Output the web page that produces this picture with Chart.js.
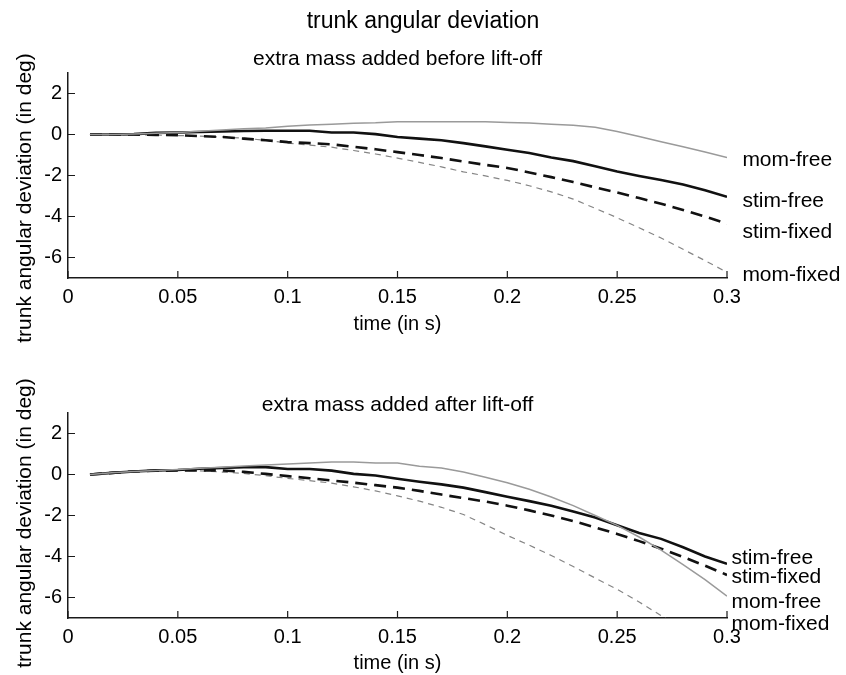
<!DOCTYPE html>
<html>
<head>
<meta charset="utf-8">
<script src="https://cdn.jsdelivr.net/npm/chart.js@4.4.1/dist/chart.umd.min.js"></script>
<style>
body { margin: 0; background: #fff; }
#wrap { position: relative; width: 846px; height: 675px; }
#chartTop { position: absolute; left: 0; top: 0; }
#chartBottom { position: absolute; left: 0; top: 350px; }
</style>
</head>
<body>
<div id="wrap">
<canvas id="chartTop" width="846" height="350"></canvas>
<canvas id="chartBottom" width="846" height="325"></canvas>
</div>
<script>
// sample times (s)
const time = [0.01, 0.02, 0.03, 0.04, 0.05, 0.06, 0.07, 0.08, 0.09, 0.10,
              0.11, 0.12, 0.13, 0.14, 0.15, 0.16, 0.17, 0.18, 0.19, 0.20,
              0.21, 0.22, 0.23, 0.24, 0.25, 0.26, 0.27, 0.28, 0.29, 0.30];

// extra mass added before lift-off
const momFreeBefore = [0, 0, 0.02, 0.06, 0.10, 0.16, 0.22, 0.28, 0.32, 0.40,
                       0.46, 0.50, 0.55, 0.57, 0.62, 0.62, 0.62, 0.62, 0.62, 0.58,
                       0.56, 0.50, 0.45, 0.35, 0.15, -0.10, -0.35, -0.60, -0.85, -1.12];
const stimFreeBefore = [0, 0, 0.02, 0.08, 0.10, 0.12, 0.15, 0.17, 0.18, 0.18,
                        0.18, 0.10, 0.10, 0.02, -0.12, -0.20, -0.28, -0.42, -0.58, -0.74,
                        -0.90, -1.12, -1.30, -1.55, -1.80, -2.02, -2.22, -2.44, -2.72, -3.04];
const stimFixedBefore = [0, 0, 0, -0.02, -0.03, -0.08, -0.12, -0.20, -0.28, -0.37,
                         -0.42, -0.48, -0.60, -0.72, -0.86, -1.00, -1.15, -1.32, -1.48, -1.63,
                         -1.85, -2.08, -2.32, -2.58, -2.83, -3.10, -3.38, -3.68, -4.00, -4.35];
const momFixedBefore = [0, 0, -0.01, -0.03, -0.05, -0.08, -0.12, -0.18, -0.28, -0.42,
                        -0.52, -0.62, -0.78, -0.95, -1.15, -1.36, -1.58, -1.82, -2.02, -2.24,
                        -2.50, -2.80, -3.15, -3.60, -4.06, -4.55, -5.05, -5.60, -6.15, -6.72];

// extra mass added after lift-off
const momFreeAfter = [0, 0.08, 0.15, 0.20, 0.24, 0.30, 0.35, 0.42, 0.46, 0.51,
                      0.56, 0.61, 0.61, 0.56, 0.56, 0.40, 0.32, 0.12, -0.13, -0.40,
                      -0.72, -1.10, -1.52, -2.00, -2.48, -3.05, -3.69, -4.40, -5.13, -5.93];
const stimFreeAfter = [0, 0.08, 0.15, 0.20, 0.22, 0.28, 0.32, 0.35, 0.36, 0.27,
                       0.27, 0.19, 0.03, -0.05, -0.21, -0.35, -0.48, -0.64, -0.86, -1.09,
                       -1.30, -1.52, -1.80, -2.10, -2.48, -2.85, -3.14, -3.55, -4.00, -4.36];
const stimFixedAfter = [0, 0.08, 0.15, 0.18, 0.20, 0.20, 0.20, 0.13, 0.03, -0.08,
                        -0.18, -0.29, -0.40, -0.52, -0.64, -0.80, -0.98, -1.15, -1.32, -1.52,
                        -1.75, -2.00, -2.27, -2.58, -2.90, -3.25, -3.62, -4.02, -4.45, -4.90];
const momFixedAfter = [0, 0.08, 0.15, 0.18, 0.20, 0.18, 0.12, 0.05, -0.06, -0.19,
                       -0.30, -0.42, -0.60, -0.80, -1.04, -1.30, -1.60, -1.95, -2.45, -2.97,
                       -3.45, -3.95, -4.49, -5.05, -5.60, -6.22, -6.88, -7.55, -8.25, -9.00];

const xTicks = [0, 0.05, 0.1, 0.15, 0.2, 0.25, 0.3];
const yTicks = [-6, -4, -2, 0, 2];

// text labels at the line ends (data units)
const namesBefore = ['mom-free', 'stim-free', 'stim-fixed', 'mom-fixed'];
const labelYBefore = [-1.24, -3.23, -4.78, -6.87];
const namesAfter = ['stim-free', 'stim-fixed', 'mom-free', 'mom-fixed'];
const labelYAfter = [-4.1, -5.03, -6.23, -7.3];

const FONT = '"Liberation Sans", Arial, Helvetica, sans-serif';

function pts(values) {
    return values.map((v, i) => ({ x: time[i], y: v }));
}

function makeDatasets(momFree, stimFree, stimFixed, momFixed) {
    return [{
        label: 'mom-free', data: pts(momFree),
        borderColor: '#9a9a9a', borderWidth: 1.5
    }, {
        label: 'stim-free', data: pts(stimFree),
        borderColor: '#111', borderWidth: 2.6
    }, {
        label: 'stim-fixed', data: pts(stimFixed),
        borderColor: '#111', borderWidth: 2.6, borderDash: [12, 7]
    }, {
        label: 'mom-fixed', data: pts(momFixed),
        borderColor: '#858585', borderWidth: 1.2, borderDash: [6, 5]
    }];
}

// inward ticks, end labels, rotated y title, figure title
const decorations = {
    id: 'decorations',
    afterDraw(chart, args, opts) {
        const { ctx, chartArea } = chart;
        const x = chart.scales.x, y = chart.scales.y;
        ctx.save();
        ctx.strokeStyle = '#1a1a1a';
        ctx.lineWidth = 1.2;
        ctx.beginPath();
        xTicks.forEach(v => {
            const px = x.getPixelForValue(v);
            ctx.moveTo(px, chartArea.bottom);
            ctx.lineTo(px, chartArea.bottom - 7);
        });
        yTicks.forEach(v => {
            const py = y.getPixelForValue(v);
            ctx.moveTo(chartArea.left, py);
            ctx.lineTo(chartArea.left + 7, py);
        });
        ctx.stroke();

        ctx.fillStyle = '#000';
        ctx.font = '21px ' + FONT;
        ctx.textAlign = 'left';
        ctx.textBaseline = 'middle';
        opts.names.forEach((name, i) => {
            ctx.fillText(name, x.getPixelForValue(opts.labelX), y.getPixelForValue(opts.labelY[i]));
        });

        if (opts.mainTitle) {
            ctx.font = '23px ' + FONT;
            ctx.textAlign = 'center';
            ctx.textBaseline = 'alphabetic';
            ctx.fillText(opts.mainTitle, 423, 28);
        }

        ctx.translate(25, opts.yTitleY);
        ctx.rotate(-Math.PI / 2);
        ctx.font = '21px ' + FONT;
        ctx.textAlign = 'center';
        ctx.textBaseline = 'middle';
        ctx.fillText('trunk angular deviation (in deg)', 0, 0);
        ctx.restore();
    }
};

function makeOptions(subtitle, padTop, titlePadBottom, padBottom, xTitlePad, deco) {
    return {
        responsive: false,
        animation: false,
        layout: { padding: { left: 0, right: 119, top: padTop, bottom: padBottom } },
        elements: { point: { radius: 0 }, line: { tension: 0 } },
        plugins: {
            legend: { display: false },
            tooltip: { enabled: false },
            title: {
                display: true, text: subtitle, fullSize: false, color: '#000',
                font: { family: FONT, size: 21, weight: 'normal', lineHeight: 1 },
                padding: { top: 0, bottom: titlePadBottom }
            },
            decorations: deco
        },
        scales: {
            x: {
                type: 'linear', min: 0, max: 0.3,
                grid: { display: false, drawTicks: false },
                border: { display: true, color: '#1a1a1a', width: 1.5 },
                afterBuildTicks: s => { s.ticks = xTicks.map(v => ({ value: v })); },
                afterFit: s => { s.height = 57; },
                ticks: {
                    autoSkip: false, maxRotation: 0, padding: 7, color: '#000',
                    font: { family: FONT, size: 20, lineHeight: 1.2 },
                    callback: v => String(v)
                },
                title: {
                    display: true, text: 'time (in s)', color: '#000',
                    font: { family: FONT, size: 20, lineHeight: 1 },
                    padding: { top: 0, bottom: xTitlePad }
                }
            },
            y: {
                min: -7, max: 3,
                grid: { display: false, drawTicks: false },
                border: { display: true, color: '#1a1a1a', width: 1.5 },
                afterBuildTicks: s => { s.ticks = yTicks.map(v => ({ value: v })); },
                afterFit: s => { s.width = 68; },
                ticks: {
                    padding: 6, color: '#000',
                    font: { family: FONT, size: 20 },
                    callback: v => String(v)
                }
            }
        }
    };
}

new Chart(document.getElementById('chartTop'), {
    type: 'line',
    data: { datasets: makeDatasets(momFreeBefore, stimFreeBefore, stimFixedBefore, momFixedBefore) },
    options: makeOptions('extra mass added before lift-off', 48.5, 3.5, 15, 1, {
        names: namesBefore, labelY: labelYBefore, labelX: 0.307,
        yTitleY: 198, mainTitle: 'trunk angular deviation'
    }),
    plugins: [decorations]
});

new Chart(document.getElementById('chartBottom'), {
    type: 'line',
    data: { datasets: makeDatasets(momFreeAfter, stimFreeAfter, stimFixedAfter, momFixedAfter) },
    options: makeOptions('extra mass added after lift-off', 44.5, -2.5, 0, 2, {
        names: namesAfter, labelY: labelYAfter, labelX: 0.302,
        yTitleY: 173, mainTitle: null
    }),
    plugins: [decorations]
});
</script>
</body>
</html>
